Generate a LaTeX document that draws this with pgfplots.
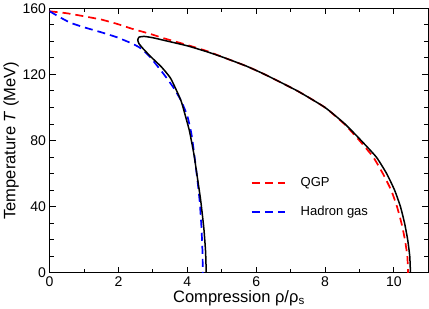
\documentclass[border=0pt]{standalone}
\usepackage{fontspec}
\setmainfont{Liberation Sans}
\usepackage{pgfplots}
\pgfplotsset{compat=1.18}
\begin{document}
\begin{tikzpicture}
\begin{axis}[
  scale only axis, width=378pt, height=264pt,
  xmin=0, xmax=11, ymin=0, ymax=160,
  xtick={0,2,4,6,8,10}, ytick={0,40,80,120,160},
  minor x tick num=1, minor y tick num=3,
  tick align=inside,
  major tick length=6pt, minor tick length=4pt,
  every tick/.style={black, line width=1pt},
  axis line style={line width=1.3pt},
  /pgf/number format/assume math mode=true,
  tick label style={font=\fontsize{14}{16}\selectfont},
  label style={font=\fontsize{16.5}{18}\selectfont},
  xlabel={Compression ρ/ρ\textsubscript{s}},
  ylabel={Temperature \textit{T} (MeV)},
  xlabel style={yshift=3pt},
  ylabel style={yshift=-3pt},
  legend style={draw=none, fill=none, at={(0.523,0.375)}, anchor=north west,
    font=\fontsize{13}{15}\selectfont, row sep=14pt},
  legend cell align=left,
  legend image code/.code={\draw[#1] (0pt,0pt) -- (33pt,0pt); \path (46pt,0pt);},
]
\addplot[red, line width=1.7pt, smooth, tension=0.3, dash pattern=on 8pt off 5pt] coordinates {
(0,158.2)(0.5,157)(0.97,155.3)(1.5,153.2)(1.94,150.7)(2.4,147.6)(2.91,144.6)(3.33,141.8)(4.0,137.8)(4.59,134)(5.05,130.3)(5.72,125)(6.25,120)(7.2,110)(8.0,100)(8.56,90)(9.0,80)(9.40,70)(9.68,60)(9.92,50)(10.09,40)(10.22,30)(10.32,20)(10.39,10)(10.41,0)};
\addlegendentry{QGP}
\addplot[blue, line width=1.7pt, smooth, tension=0.3, dash pattern=on 8pt off 5pt] coordinates {
(0,158.2)(0.29,154.7)(0.6,151.3)(0.97,148.7)(1.5,145.5)(1.94,142.6)(2.36,139)(2.62,136.2)(2.9,131)(3.33,119.8)(3.6,112)(3.81,104.5)(4.0,95)(4.12,84)(4.2,72)(4.3,55)(4.36,43)(4.41,28)(4.44,13)(4.45,0)};
\addlegendentry{Hadron gas}
\addplot[black, line width=1.5pt, smooth, tension=0.3, forget plot] coordinates {
(4.55,0)(4.53,13)(4.48,27)(4.39,43.6)(4.29,58)(4.19,72)(4.06,86)(3.93,96)(3.81,104.5)(3.52,117.5)(3.25,124.5)(2.94,130.7)(2.72,135.5)(2.6,138.5)(2.56,140.8)(2.6,142.6)(2.75,143)(3.0,142.2)(3.33,140.6)(4.0,137.3)(4.59,133.6)(5.05,130.3)(5.72,125)(6.25,120)(7.2,110)(8.0,100)(8.58,90)(9.05,80)(9.49,70)(9.79,60)(10.02,50)(10.19,40)(10.31,30)(10.40,20)(10.46,10)(10.48,0)};
\end{axis}
\end{tikzpicture}
\end{document}
